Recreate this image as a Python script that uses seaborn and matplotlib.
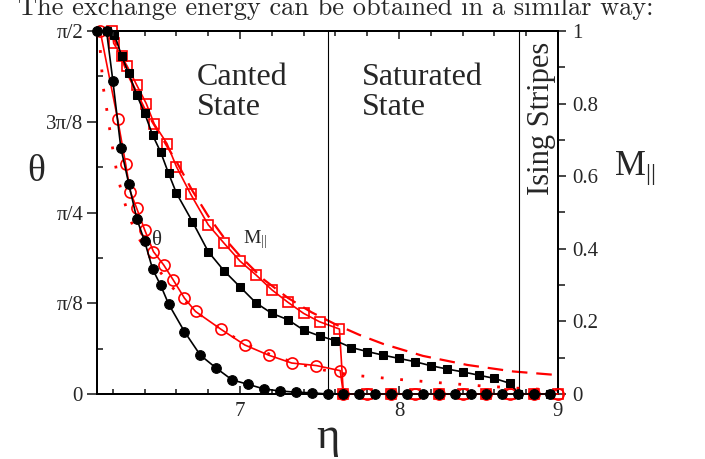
import numpy as np
import matplotlib
matplotlib.use("Agg")
import matplotlib.pyplot as plt
import seaborn as sns
from matplotlib.ticker import FixedLocator, MultipleLocator

# --- simulation: tilt angle theta (radians) vs eta ---
eta_theta_a = [6.10, 6.16, 6.20, 6.25, 6.30, 6.35, 6.40, 6.45, 6.50, 6.55, 6.65, 6.75,
               6.85, 6.95, 7.05, 7.15, 7.25, 7.35, 7.45, 7.55, 7.65, 7.75, 7.85, 7.95,
               8.05, 8.15, 8.25, 8.35, 8.45, 8.55, 8.65, 8.75, 8.85, 8.95]
theta_a = [1.571, 1.571, 1.354, 1.065, 0.909, 0.759, 0.660, 0.540, 0.471, 0.390, 0.270, 0.168,
           0.112, 0.061, 0.042, 0.022, 0.013, 0.008, 0.005, 0.0, 0.0, 0.0, 0.0, 0.0,
           0.0, 0.0, 0.0, 0.0, 0.0, 0.0, 0.0, 0.0, 0.0, 0.0]

eta_theta_b = [6.12, 6.23, 6.28, 6.31, 6.35, 6.40, 6.455, 6.52, 6.58, 6.65, 6.72, 6.88,
               7.03, 7.18, 7.325, 7.48, 7.63, 7.65, 7.80, 7.95, 8.10, 8.25, 8.40, 8.55,
               8.70, 8.85, 9.00]
theta_b = [1.571, 1.189, 0.996, 0.875, 0.803, 0.710, 0.616, 0.558, 0.493, 0.415, 0.357, 0.280,
           0.212, 0.168, 0.134, 0.123, 0.101, 0.0, 0.0, 0.0, 0.0, 0.0, 0.0, 0.0,
           0.0, 0.0, 0.0]

# --- simulation: in-plane magnetisation M_par vs eta ---
eta_m_a = [6.16, 6.21, 6.256, 6.30, 6.35, 6.40, 6.45, 6.50, 6.55, 6.60, 6.70, 6.80, 6.90,
           7.00, 7.10, 7.20, 7.30, 7.40, 7.50, 7.60, 7.70, 7.80, 7.90, 8.00, 8.10, 8.20,
           8.30, 8.40, 8.50, 8.60, 8.70, 8.75, 8.85, 8.95]
m_a = [1.0, 0.99, 0.93, 0.883, 0.824, 0.773, 0.713, 0.667, 0.608, 0.553, 0.475, 0.392, 0.339,
       0.295, 0.251, 0.222, 0.205, 0.176, 0.160, 0.147, 0.128, 0.117, 0.107, 0.098, 0.089, 0.078,
       0.069, 0.061, 0.052, 0.043, 0.029, 0.0, 0.0, 0.0]

eta_m_b = [6.195, 6.205, 6.255, 6.29, 6.35, 6.41, 6.46, 6.54, 6.60, 6.69, 6.80, 6.90, 7.00,
           7.10, 7.20, 7.30, 7.40, 7.50, 7.625, 7.65, 7.80, 7.95, 8.10, 8.25, 8.40, 8.55,
           8.70, 8.85, 9.00]
m_b = [1.0, 0.966, 0.93, 0.903, 0.851, 0.80, 0.744, 0.69, 0.626, 0.55, 0.466, 0.415, 0.366,
       0.328, 0.287, 0.253, 0.222, 0.199, 0.179, 0.0, 0.0, 0.0, 0.0, 0.0, 0.0, 0.0,
       0.0, 0.0, 0.0]

# --- analytic curves ---
eta_theory_theta = [6.10, 6.12, 6.13, 6.14, 6.162, 6.193, 6.224, 6.256, 6.30, 6.35, 6.40, 6.45,
                    6.55, 6.65, 6.75, 6.90, 7.05, 7.20, 7.35, 7.50, 7.70, 8.00, 8.25, 8.50,
                    8.75, 9.00]
theta_theory = [1.571, 1.492, 1.403, 1.324, 1.228, 1.085, 0.961, 0.869, 0.770, 0.691, 0.628, 0.573,
                0.479, 0.405, 0.342, 0.270, 0.212, 0.168, 0.134, 0.107, 0.082, 0.063, 0.049, 0.036,
                0.025, 0.017]

eta_theory_m = [6.19, 6.25, 6.30, 6.40, 6.50, 6.60, 6.70, 6.80, 6.90, 7.00, 7.15, 7.30, 7.45,
                7.60, 7.75, 7.90, 8.15, 8.43, 8.72, 9.00]
m_theory = [1.0, 0.93, 0.875, 0.785, 0.712, 0.64, 0.56, 0.49, 0.43, 0.38, 0.315, 0.265, 0.225,
            0.192, 0.163, 0.138, 0.105, 0.080, 0.062, 0.052]

# phase boundaries
boundaries = [7.555, 8.756]

theta_ticks = [0.0, np.pi / 8, np.pi / 4, 3 * np.pi / 8, np.pi / 2]
theta_ticklabels = ["0", "π/8", "π/4", "3π/8", "π/2"]
m_ticks = [0.0, 0.2, 0.4, 0.6, 0.8, 1.0]
m_ticklabels = ["0", "0.2", "0.4", "0.6", "0.8", "1"]
eta_ticks = [7, 8, 9]

sns.set_style("ticks")
plt.rcParams["font.family"] = ["Liberation Serif", "DejaVu Serif"]
plt.rcParams["mathtext.fontset"] = "custom"
plt.rcParams["mathtext.rm"] = "Liberation Serif"
plt.rcParams["mathtext.it"] = "Liberation Serif:italic"

fig = plt.figure(figsize=(7.05, 4.59), dpi=100)
ax = fig.add_axes([97 / 705, 1 - 394 / 459, 461 / 705, 363 / 459])
ax2 = ax.twinx()
ax.set_zorder(ax2.get_zorder() + 1)
ax.patch.set_visible(False)

red = "#ff0000"
lw = 1.2

# magnetisation (right axis)
sns.lineplot(x=eta_m_b, y=m_b, ax=ax2, color=red, lw=lw, marker="s", markersize=7,
             markerfacecolor="none", markeredgecolor=red, markeredgewidth=1.2,
             errorbar=None, zorder=3, clip_on=False)
sns.lineplot(x=eta_theory_m, y=m_theory, ax=ax2, color=red, lw=1.6,
             linestyle=(0, (7, 4)), errorbar=None, zorder=2)
sns.lineplot(x=eta_m_a, y=m_a, ax=ax2, color="black", lw=lw, marker="s", markersize=6,
             markerfacecolor="black", markeredgecolor="black", errorbar=None, zorder=4,
             clip_on=False)

# tilt angle (left axis)
sns.lineplot(x=eta_theta_b, y=theta_b, ax=ax, color=red, lw=lw, marker="o", markersize=8,
             markerfacecolor="none", markeredgecolor=red, markeredgewidth=1.2,
             errorbar=None, zorder=3, clip_on=False)
sns.lineplot(x=eta_theory_theta, y=theta_theory, ax=ax, color=red, lw=2.0,
             linestyle=(0, (1, 6)), errorbar=None, zorder=2)
sns.lineplot(x=eta_theta_a, y=theta_a, ax=ax, color="black", lw=lw, marker="o", markersize=7,
             markerfacecolor="black", markeredgecolor="black", errorbar=None, zorder=4,
             clip_on=False)

for b in boundaries:
    ax.axvline(b, color="black", lw=0.8, zorder=1)

ax.set_xlim(6.1, 9.0)
ax.set_ylim(0, np.pi / 2)
ax2.set_ylim(0, 1)

ax.xaxis.set_major_locator(FixedLocator(eta_ticks))
ax.xaxis.set_minor_locator(MultipleLocator(0.2))
ax.set_xticklabels([str(t) for t in eta_ticks])
ax.yaxis.set_major_locator(FixedLocator(theta_ticks))
ax.yaxis.set_minor_locator(MultipleLocator(np.pi / 16))
ax.set_yticklabels(theta_ticklabels)
ax2.yaxis.set_major_locator(FixedLocator(m_ticks))
ax2.yaxis.set_minor_locator(MultipleLocator(0.1))
ax2.set_yticklabels(m_ticklabels)

ax.set_xlabel("")
ax.set_ylabel("")
ax2.set_ylabel("")

for a in (ax, ax2):
    for s in a.spines.values():
        s.set_visible(True)
        s.set_linewidth(1.4)
        s.set_color("black")

ax.tick_params(axis="x", which="major", direction="in", length=6, width=1.2,
               top=True, bottom=True, labelsize=15, pad=6)
ax.tick_params(axis="x", which="minor", direction="in", length=3.5, width=1.2,
               top=True, bottom=True)
ax.tick_params(axis="y", which="major", direction="out", length=7, width=1.2,
               labelsize=15, pad=3)
ax.tick_params(axis="y", which="minor", direction="in", length=4, width=1.2)
ax2.tick_params(axis="y", which="major", direction="out", length=6, width=1.2,
                labelsize=15, pad=4)
ax2.tick_params(axis="y", which="minor", direction="out", length=5, width=1.2)

ax.grid(False)
ax2.grid(False)

# axis titles
fig.text(36 / 705, 1 - 172 / 459, "θ", fontsize=27, ha="center", va="center")
fig.text(328 / 705, 1 - 448 / 459, "η", fontsize=32, ha="center", va="baseline")
fig.text(614 / 705, 1 - 175 / 459, r"M$_{||}$", fontsize=25, ha="left", va="baseline")

# curve labels
fig.text(157 / 705, 1 - 241 / 459, "θ", fontsize=15, ha="center", va="center")
fig.text(243 / 705, 1 - 243 / 459, r"M$_{||}$", fontsize=14, ha="left", va="baseline")

# phase labels
fig.text(197 / 705, 1 - 85 / 459, "Canted", fontsize=23, va="baseline")
fig.text(197 / 705, 1 - 115 / 459, "State", fontsize=23, va="baseline")
fig.text(362 / 705, 1 - 85 / 459, "Saturated", fontsize=23, va="baseline")
fig.text(362 / 705, 1 - 115 / 459, "State", fontsize=23, va="baseline")
fig.text(542 / 705, 1 - 118 / 459, "Ising Stripes", fontsize=22, rotation=90,
         ha="center", va="center")

# running text above the figure
fig.text(18 / 705, 1 - 15 / 459, "The exchange energy can be obtained in a similar way:",
         family="cmr10", fontsize=19, va="baseline")

fig.savefig("out.png", dpi=100)
